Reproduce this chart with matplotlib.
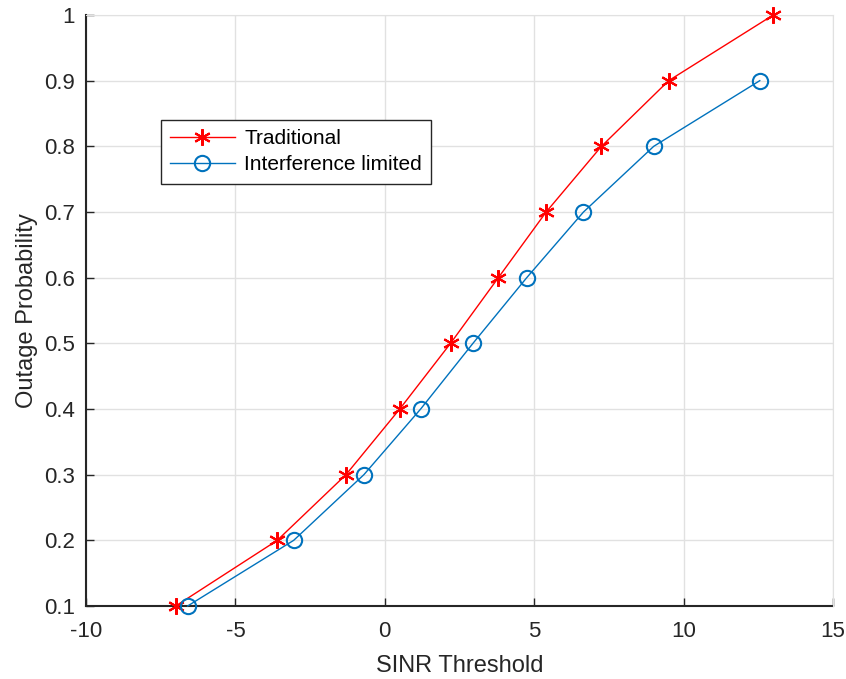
import numpy as np
import matplotlib.pyplot as plt
from matplotlib.lines import Line2D

plt.rcParams["font.family"] = ["Liberation Sans", "DejaVu Sans"]
plt.rcParams["axes.unicode_minus"] = False

# values
outage = [0.1, 0.2, 0.3, 0.4, 0.5, 0.6, 0.7, 0.8, 0.9, 1.0]
sinr_traditional = [-7.0, -3.6, -1.3, 0.5, 2.2, 3.8, 5.4, 7.25, 9.5, 13.0]
outage_interf = [0.1, 0.2, 0.3, 0.4, 0.5, 0.6, 0.7, 0.8, 0.9]
sinr_interf = [-6.6, -3.05, -0.7, 1.2, 2.95, 4.75, 6.65, 9.0, 12.55]

xticks = [-10, -5, 0, 5, 10, 15]
yticks = [0.1, 0.2, 0.3, 0.4, 0.5, 0.6, 0.7, 0.8, 0.9, 1.0]
ytick_labels = ["0.1", "0.2", "0.3", "0.4", "0.5", "0.6", "0.7", "0.8", "0.9", "1"]

DARK = "#262626"
RED = "#ff0000"
BLUE = "#0072bd"

fig = plt.figure(figsize=(8.46, 6.79), dpi=100)
ax = fig.add_axes([0.1017, 0.1075, 0.8829, 0.8704])

# MATLAB-style asterisk: 6 thin arms
ax.plot(sinr_traditional, outage, color=RED, lw=1.0, marker=(6, 2, 0),
        markersize=12, markeredgewidth=1.5, label="Traditional", zorder=3,
        clip_on=False)
ax.plot(sinr_interf, outage_interf, color=BLUE, lw=1.0, marker="o",
        markersize=11, markerfacecolor="none", markeredgewidth=1.5,
        label="Interference limited", zorder=3, clip_on=False)

ax.set_xlim(-10, 15)
ax.set_ylim(0.1, 1.0)
ax.set_xticks(xticks)
ax.set_yticks(yticks)
ax.set_yticklabels(ytick_labels)
ax.grid(True, color="#e1e1e1", lw=1.0)
ax.set_axisbelow(True)

for side in ["top", "right"]:
    ax.spines[side].set_color("#e1e1e1")
for side in ["left", "bottom"]:
    ax.spines[side].set_color(DARK)
    ax.spines[side].set_linewidth(1.5)
    ax.spines[side].set_zorder(2)
ax.tick_params(direction="in", length=6, width=1.0, colors=DARK,
               labelsize=16)
ax.tick_params(axis="x", pad=11)
ax.tick_params(axis="y", pad=8)

ax.set_xlabel("SINR Threshold", fontsize=17, color=DARK, labelpad=9)
ax.set_ylabel("Outage Probability", fontsize=17, color=DARK, labelpad=4)

leg = ax.legend(loc="upper left", bbox_to_anchor=(0.1, 0.823), fontsize=15,
                frameon=True, fancybox=False, handlelength=3.1,
                borderpad=0.45, labelspacing=0.35, handletextpad=0.45,
                borderaxespad=0)
leg.get_frame().set_edgecolor(DARK)
leg.get_frame().set_linewidth(1.0)
leg.get_frame().set_alpha(1.0)

fig.savefig("out.png", dpi=100)
